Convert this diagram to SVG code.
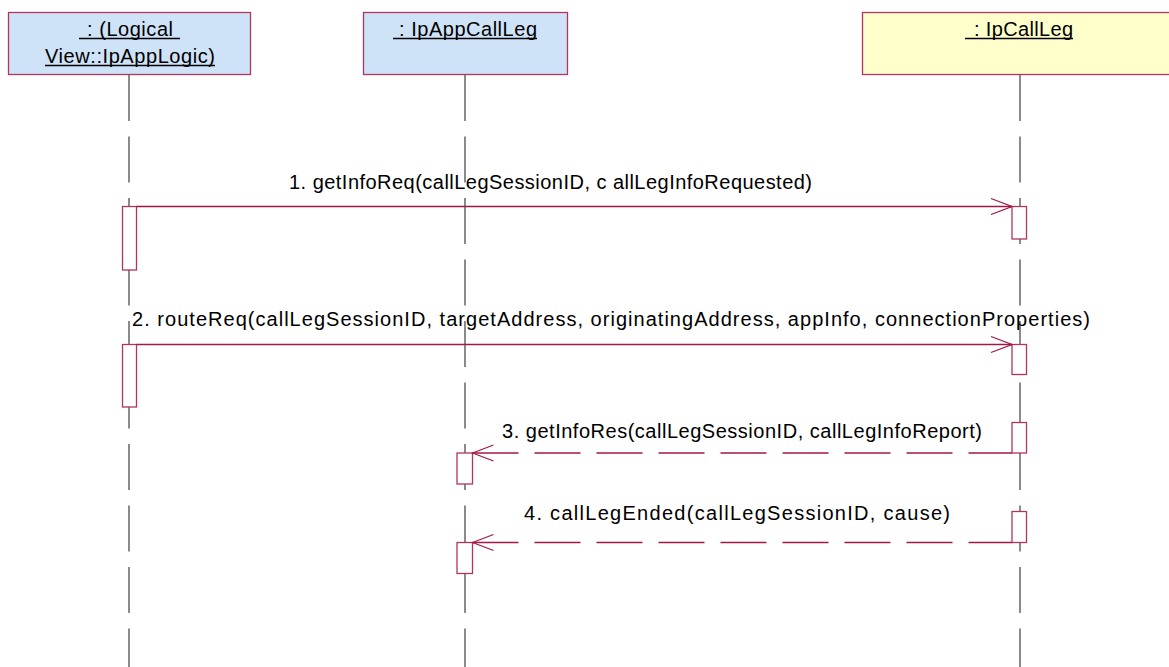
<svg xmlns="http://www.w3.org/2000/svg" width="1169" height="667" viewBox="0 0 1169 667">
<style>
  .obj { stroke: #b4345f; stroke-width: 1.3; }
  .blue { fill: #cfe3f8; }
  .yellow { fill: #ffffcc; }
  .ul { stroke: #000; stroke-width: 1.3; }
  .life { stroke: #5a5a5a; stroke-width: 1.4; stroke-dasharray: 46 15.5; fill: none; }
  .act { fill: #ffffff; stroke: #b4345f; stroke-width: 1.3; }
  .msg { stroke: #a0184a; stroke-width: 1.3; fill: none; }
  .ret { stroke-dasharray: 46 16; }
  text { font-family: "Liberation Sans", Arial, sans-serif; font-size: 20px; fill: #000; }
</style>
<defs>
  <marker id="open" viewBox="-23 -10 25 20" refX="0" refY="0" markerWidth="25" markerHeight="20" orient="auto-start-reverse" markerUnits="userSpaceOnUse">
    <path d="M-21,-8 L0,0 L-21,8" fill="none" stroke="#a0184a" stroke-width="1.3"/>
  </marker>
</defs>
<rect width="1169" height="667" fill="#ffffff"/>

<g id="lifelines">
  <line class="life" x1="129" y1="75" x2="129" y2="667"/>
  <line class="life" x1="465" y1="75" x2="465" y2="667"/>
  <line class="life" x1="1020" y1="75" x2="1020" y2="667"/>
</g>

<g id="node-applogic">
  <rect class="obj blue" x="8.5" y="12.5" width="242" height="62"/>
  <text x="87" y="36" textLength="86" lengthAdjust="spacing">: (Logical</text>
  <line class="ul" x1="79" y1="38.5" x2="180" y2="38.5"/>
  <text x="45" y="63" textLength="170" lengthAdjust="spacing">View::IpAppLogic)</text>
  <line class="ul" x1="45" y1="65.5" x2="215" y2="65.5"/>
</g>

<g id="node-appcallleg">
  <rect class="obj blue" x="363.5" y="12.5" width="204" height="62"/>
  <text x="399" y="36" textLength="138" lengthAdjust="spacing">: IpAppCallLeg</text>
  <line class="ul" x1="393" y1="38.5" x2="537" y2="38.5"/>
</g>

<g id="node-callleg">
  <rect class="obj yellow" x="862.5" y="12.5" width="316" height="62"/>
  <text x="974" y="36" textLength="99" lengthAdjust="spacing">: IpCallLeg</text>
  <line class="ul" x1="965" y1="38.5" x2="1073" y2="38.5"/>
</g>

<g id="activations">
  <rect class="act" x="122.5" y="206.5" width="14" height="63.5"/>
  <rect class="act" x="1012" y="206.5" width="14.5" height="32.5"/>
  <rect class="act" x="122.5" y="344.5" width="14" height="62.5"/>
  <rect class="act" x="1012" y="344.5" width="14.5" height="30"/>
  <rect class="act" x="1012" y="422.5" width="14.5" height="30.5"/>
  <rect class="act" x="457" y="453" width="15.5" height="31"/>
  <rect class="act" x="1012" y="511.5" width="14.5" height="31"/>
  <rect class="act" x="457" y="542.5" width="15.5" height="31"/>
</g>

<g id="connectors">
  <line class="msg" x1="136.5" y1="206.5" x2="1012" y2="206.5" marker-end="url(#open)"/>
  <text x="289" y="189" textLength="523" lengthAdjust="spacing">1. getInfoReq(callLegSessionID, c allLegInfoRequested)</text>

  <line class="msg" x1="136.5" y1="344.5" x2="1012" y2="344.5" marker-end="url(#open)"/>
  <text x="132" y="326" textLength="958" lengthAdjust="spacing">2. routeReq(callLegSessionID, targetAddress, originatingAddress, appInfo, connectionProperties)</text>

  <line class="msg ret" x1="472.5" y1="453" x2="1012" y2="453" marker-start="url(#open)"/>
  <text x="502" y="438" textLength="480" lengthAdjust="spacing">3. getInfoRes(callLegSessionID, callLegInfoReport)</text>

  <line class="msg ret" x1="472.5" y1="542.5" x2="1012" y2="542.5" marker-start="url(#open)"/>
  <text x="524" y="520" textLength="426" lengthAdjust="spacing">4. callLegEnded(callLegSessionID, cause)</text>
</g>
</svg>
